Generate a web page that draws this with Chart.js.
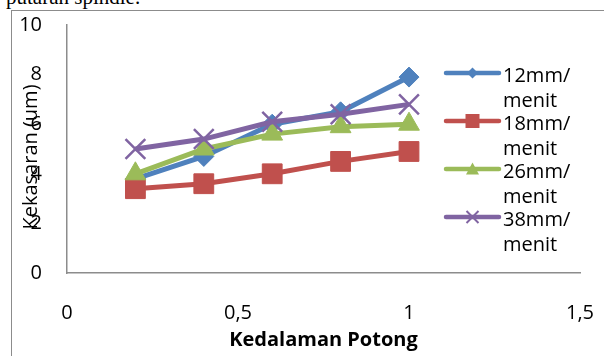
<!DOCTYPE html>
<html>
<head>
<meta charset="utf-8">
<script src="https://cdn.jsdelivr.net/npm/chart.js@4.4.1/dist/chart.umd.min.js"></script>
<style>
  html, body { margin: 0; padding: 0; background: #fff; }
  body { width: 604px; height: 356px; position: relative; overflow: hidden; }
  /* potongan baris teks dokumen di atas bingkai grafik */
  .teks-atas { position: absolute; left: 0; top: 0; width: 604px; height: 10px; overflow: hidden; }
  .teks-atas span { position: absolute; left: 6px; top: -13px; font: 21px/21px "Liberation Serif", serif; color: #000; white-space: nowrap; }
  .bingkai { position: absolute; left: 11px; top: 10px; right: -2px; bottom: -2px; border-left: 1.5px solid #8c8c8c; border-top: 1.5px solid #8c8c8c; }
  #grafik { position: absolute; left: 0; top: 0; }
</style>
</head>
<body>
<div class="teks-atas"><span>putaran spindle.</span></div>
<div class="bingkai"></div>
<canvas id="grafik" width="604" height="356"></canvas>
<script>
// Data kekasaran terhadap kedalaman potong
const kedalaman = [0.2, 0.4, 0.6, 0.8, 1.0];
const seri12 = [3.8, 4.7, 6.0, 6.5, 7.9];
const seri18 = [3.4, 3.6, 4.0, 4.5, 4.9];
const seri26 = [4.0, 5.0, 5.6, 5.9, 6.0];
const seri38 = [5.0, 5.4, 6.1, 6.4, 6.8];
const namaSeri = ['12mm/menit', '18mm/menit', '26mm/menit', '38mm/menit'];
const tickX = [0, 0.5, 1, 1.5];
const tickY = [0, 2, 4, 6, 8, 10];
const judulX = 'Kedalaman Potong';
const judulY = 'Kekasaran (um)';

const semuaSeri = [seri12, seri18, seri26, seri38];
const warnaSeri = ['#4f81bd', '#c0504d', '#9bbb59', '#8064a2'];
const gayaTitik = ['rectRot', 'rect', 'triangle', 'crossRot'];
const radiusTitik = [10, 14, 12, 14];
const huruf = '"Open Sans", sans-serif';

// penanda kecil untuk legenda
function gambarPenanda(ctx, gaya, x, y, r, warna) {
  ctx.save();
  ctx.fillStyle = warna;
  ctx.strokeStyle = warna;
  ctx.lineWidth = 2;
  ctx.beginPath();
  if (gaya === 'rectRot') {
    ctx.moveTo(x, y - r); ctx.lineTo(x + r, y); ctx.lineTo(x, y + r); ctx.lineTo(x - r, y);
    ctx.closePath(); ctx.fill();
  } else if (gaya === 'rect') {
    ctx.rect(x - r, y - r, 2 * r, 2 * r); ctx.fill();
  } else if (gaya === 'triangle') {
    ctx.moveTo(x, y - r); ctx.lineTo(x + r, y + r * 0.85); ctx.lineTo(x - r, y + r * 0.85);
    ctx.closePath(); ctx.fill();
  } else {
    ctx.moveTo(x - r, y - r); ctx.lineTo(x + r, y + r);
    ctx.moveTo(x + r, y - r); ctx.lineTo(x - r, y + r);
    ctx.stroke();
  }
  ctx.restore();
}

const pluginTambahan = {
  id: 'legendaDanJudulY',
  afterDraw(chart) {
    const ctx = chart.ctx;
    // judul sumbu Y (menumpuk di atas label tick seperti aslinya)
    ctx.save();
    ctx.translate(31, 157);
    ctx.rotate(-Math.PI / 2);
    ctx.font = '20px ' + huruf;
    ctx.fillStyle = '#000';
    ctx.textAlign = 'center';
    ctx.textBaseline = 'middle';
    ctx.fillText(judulY, 0, 0);
    ctx.restore();

    // legenda di kanan, di dalam area plot
    const ukuranLegenda = [5.5, 7, 6.5, 6];
    chart.data.datasets.forEach((ds, i) => {
      const yGaris = 73 + i * 48;
      ctx.save();
      ctx.strokeStyle = ds.borderColor;
      ctx.lineWidth = 4.5;
      ctx.lineCap = 'round';
      ctx.beginPath();
      ctx.moveTo(446, yGaris);
      ctx.lineTo(499, yGaris);
      ctx.stroke();
      ctx.restore();
      gambarPenanda(ctx, gayaTitik[i], 472.5, yGaris, ukuranLegenda[i], ds.borderColor);

      const pisah = ds.label.indexOf('/') + 1;
      ctx.save();
      ctx.font = '20px ' + huruf;
      ctx.fillStyle = '#000';
      ctx.textBaseline = 'alphabetic';
      ctx.fillText(ds.label.slice(0, pisah), 503, yGaris + 9);
      ctx.fillText(ds.label.slice(pisah), 503, yGaris + 34);
      ctx.restore();
    });
  }
};

const datasets = semuaSeri.map((seri, i) => ({
  label: namaSeri[i],
  data: kedalaman.map((x, j) => ({ x: x, y: seri[j] })),
  borderColor: warnaSeri[i],
  backgroundColor: warnaSeri[i],
  borderWidth: 5,
  tension: 0,
  pointStyle: gayaTitik[i],
  pointRadius: radiusTitik[i],
  pointBorderWidth: gayaTitik[i] === 'crossRot' ? 2.5 : 1,
  pointBorderColor: warnaSeri[i],
  pointBackgroundColor: warnaSeri[i],
  order: semuaSeri.length - i
}));

new Chart(document.getElementById('grafik'), {
  type: 'line',
  data: { datasets: datasets },
  options: {
    responsive: false,
    animation: false,
    layout: { padding: { top: 25, right: 24, bottom: 0, left: 0 } },
    plugins: {
      legend: { display: false },
      tooltip: { enabled: false }
    },
    scales: {
      x: {
        type: 'linear',
        min: 0,
        max: 1.5,
        afterBuildTicks: (s) => { s.ticks = tickX.map(v => ({ value: v })); },
        afterFit: (s) => { s.height = 83; s.paddingLeft = 0; s.paddingRight = 0; },
        grid: { display: false, drawTicks: false },
        border: { display: true, color: '#8c8c8c', width: 1.5 },
        ticks: {
          color: '#000',
          padding: 28,
          maxRotation: 0,
          font: { family: huruf, size: 20 },
          callback: (v) => String(v).replace('.', ',')
        },
        title: {
          display: true,
          text: judulX,
          color: '#000',
          padding: { top: 0, bottom: 4 },
          font: { family: huruf, size: 20, weight: 'bold' }
        }
      },
      y: {
        min: 0,
        max: 10,
        afterBuildTicks: (s) => { s.ticks = tickY.map(v => ({ value: v })); },
        afterFit: (s) => { s.width = 67; s.paddingTop = 0; s.paddingBottom = 0; },
        grid: { display: false, drawTicks: false },
        border: { display: true, color: '#8c8c8c', width: 1.5 },
        ticks: {
          color: '#000',
          padding: 25,
          font: { family: huruf, size: 20 }
        }
      }
    }
  },
  plugins: [pluginTambahan]
});
</script>
</body>
</html>
